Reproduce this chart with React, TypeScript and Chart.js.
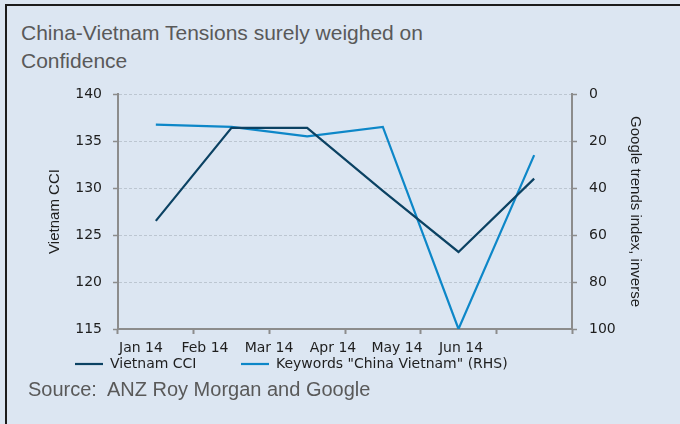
import React, { useEffect, useRef } from "react";
import { Chart, registerables } from "chart.js";

Chart.register(...registerables);

const months = ["Jan 14", "Feb 14", "Mar 14", "Apr 14", "May 14", "Jun 14"];
const vietnamCCI = [126.5, 136.4, 136.4, 129.7, 123.2, 131.0];
const googleTrends = [13, 14, 18, 14, 100, 26];
const cciRange = { min: 115, max: 140, step: 5 };
const trendsRange = { min: 0, max: 100, step: 20 };
const labelPositions = [0, 1, 2, 3, 4, 5];

const DARK = "#0b4263";
const LIGHT = "#0d87c8";
const AXIS = "#8c8c8c";
const GRID = "#bcc6d1";
const TEXT = "#1e1e1e";
const TICK_FONT = { family: "'DejaVu Sans', Verdana, sans-serif", size: 14 };

export default function App() {
  const ref = useRef<HTMLCanvasElement | null>(null);

  useEffect(() => {
    if (!ref.current) return;
    const chart = new Chart(ref.current, {
      type: "line",
      data: {
        labels: months,
        datasets: [
          {
            label: "Vietnam CCI",
            data: vietnamCCI,
            borderColor: DARK,
            backgroundColor: DARK,
            borderWidth: 2.2,
            pointRadius: 0,
            tension: 0,
            xAxisID: "x",
            yAxisID: "y",
          },
          {
            label: 'Keywords "China Vietnam" (RHS)',
            data: googleTrends,
            borderColor: LIGHT,
            backgroundColor: LIGHT,
            borderWidth: 2.2,
            pointRadius: 0,
            tension: 0,
            xAxisID: "x",
            yAxisID: "y2",
          },
        ],
      },
      options: {
        responsive: false,
        animation: false,
        devicePixelRatio: 1,
        layout: { padding: { left: 75, right: 32, top: 94, bottom: 43 } },
        plugins: {
          title: { display: false },
          tooltip: { enabled: false },
          legend: {
            display: true,
            position: "bottom",
            align: "start",
            labels: {
              usePointStyle: true,
              pointStyle: "line",
              pointStyleWidth: 28,
              padding: 0,
              color: TEXT,
              font: TICK_FONT,
              generateLabels: (c: any) => {
                const items = (Chart as any).defaults.plugins.legend.labels.generateLabels(c);
                if (items[0]) items[0].text = items[0].text + "          ";
                return items;
              },
            },
          },
        },
        scales: {
          x: {
            type: "category",
            position: "bottom",
            weight: 1,
            offset: true,
            grid: {
              display: true,
              offset: true,
              drawOnChartArea: false,
              drawTicks: true,
              tickLength: 5,
              tickColor: AXIS,
              tickWidth: 2,
            },
            border: { display: true, color: AXIS, width: 2 },
            ticks: { display: false },
            afterFit: (s: any) => {
              s.height = 5;
            },
          },
          xl: {
            type: "linear",
            axis: "x",
            position: "bottom",
            weight: 2,
            min: -0.359,
            max: 6.734,
            grid: { display: false, drawTicks: false },
            border: { display: false },
            ticks: {
              padding: 6,
              color: TEXT,
              font: TICK_FONT,
              autoSkip: false,
              maxRotation: 0,
              minRotation: 0,
              callback: (v: any) => months[Number(v)] ?? "",
            },
            afterBuildTicks: (s: any) => {
              s.ticks = labelPositions.map((v) => ({ value: v }));
            },
            afterFit: (s: any) => {
              s.height = 23;
            },
          },
          y: {
            type: "linear",
            position: "left",
            min: cciRange.min,
            max: cciRange.max,
            ticks: {
              stepSize: cciRange.step,
              padding: 11,
              color: TEXT,
              font: TICK_FONT,
            },
            grid: {
              display: true,
              drawOnChartArea: true,
              color: GRID,
              lineWidth: 1,
              drawTicks: true,
              tickLength: 5,
              tickColor: AXIS,
              tickWidth: 1.5,
            },
            border: { display: true, color: AXIS, width: 2, dash: [3, 2] },
            title: {
              display: true,
              text: "Vietnam CCI",
              color: TEXT,
              font: { family: "'Liberation Sans', Arial, sans-serif", size: 15 },
              padding: { top: -29, bottom: 0 },
            },
            afterFit: (s: any) => {
              s.width = 43;
            },
          },
          y2: {
            type: "linear",
            position: "right",
            reverse: true,
            min: trendsRange.min,
            max: trendsRange.max,
            ticks: {
              stepSize: trendsRange.step,
              padding: 12,
              color: TEXT,
              font: TICK_FONT,
            },
            grid: {
              display: true,
              drawOnChartArea: false,
              drawTicks: true,
              tickLength: 5,
              tickColor: AXIS,
              tickWidth: 1.5,
            },
            border: { display: true, color: AXIS, width: 2 },
            title: {
              display: true,
              text: "Google trends index, inverse",
              color: TEXT,
              font: { family: "'Liberation Sans', Arial, sans-serif", size: 15 },
              padding: { top: 4, bottom: 0 },
            },
            afterFit: (s: any) => {
              s.width = 76;
            },
          },
        },
      },
    } as any);
    return () => chart.destroy();
  }, []);

  return (
    <div
      style={{
        position: "fixed",
        left: 0,
        top: 0,
        width: 680,
        height: 424,
        background: "#dce6f2",
        overflow: "hidden",
      }}
    >
      <div
        style={{
          position: "absolute",
          left: 5,
          top: 4,
          width: 700,
          height: 440,
          borderTop: "2px solid #1c1c1c",
          borderLeft: "2px solid #1c1c1c",
        }}
      />
      <div
        style={{
          position: "absolute",
          left: 21,
          top: 19,
          width: 600,
          fontFamily: "'Liberation Sans', Arial, sans-serif",
          fontSize: 21,
          lineHeight: "28px",
          color: "#595959",
        }}
      >
        China-Vietnam Tensions surely weighed on
        <br />
        Confidence
      </div>
      <canvas
        ref={ref}
        width={680}
        height={424}
        style={{ position: "absolute", left: 0, top: 0, width: 680, height: 424 }}
      />
      <div
        style={{
          position: "absolute",
          left: 28,
          top: 379,
          fontFamily: "'Liberation Sans', Arial, sans-serif",
          fontSize: 20,
          lineHeight: "20px",
          color: "#595959",
          whiteSpace: "pre",
        }}
      >
        {"Source:  ANZ Roy Morgan and Google"}
      </div>
    </div>
  );
}
